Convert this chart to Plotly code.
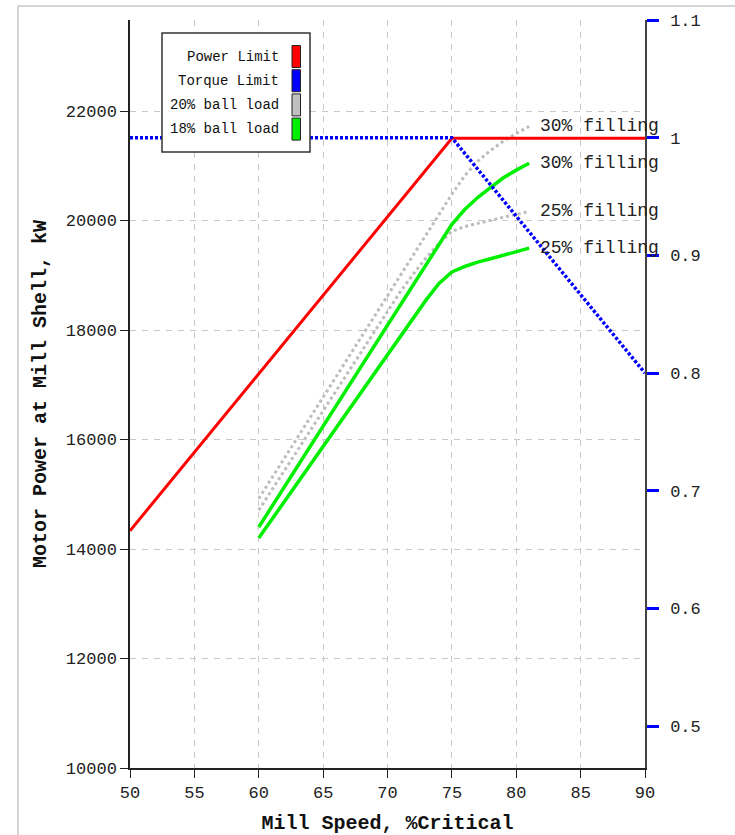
import plotly.graph_objects as go

# ---- data ----
speed_limit = [50, 75, 90]
power_limit = [14333, 21500, 21500]
torque_limit = [1.0, 1.0, 0.8]

speed = [60, 61, 62, 63, 64, 65, 66, 67, 68, 69, 70,
         71, 72, 73, 74, 75, 76, 77, 78, 79, 80, 81]
ball20_fill30 = [14920, 15290, 15665, 16035, 16410, 16780, 17150, 17525, 17900, 18270, 18640,
                 19010, 19380, 19750, 20120, 20480, 20820, 21080, 21280, 21450, 21590, 21720]
ball20_fill25 = [14710, 15075, 15440, 15800, 16170, 16530, 16900, 17260, 17630, 17990, 18350,
                 18700, 19020, 19320, 19580, 19800, 19890, 19950, 20010, 20060, 20110, 20165]
ball18_fill30 = [14400, 14770, 15140, 15510, 15880, 16250, 16620, 16990, 17360, 17730, 18100,
                 18470, 18840, 19210, 19580, 19930, 20200, 20420, 20600, 20780, 20920, 21045]
ball18_fill25 = [14200, 14535, 14870, 15200, 15540, 15870, 16210, 16540, 16880, 17210, 17540,
                 17880, 18210, 18550, 18850, 19060, 19160, 19240, 19300, 19370, 19430, 19495]

curve_labels = ["30% filling", "25% filling", "30% filling", "25% filling"]
legend_names = ["Power Limit", "Torque Limit", "20% ball load", "18% ball load"]
legend_colors = ["#ff0000", "#0000ff", "#c0c0c0", "#00ee00"]

x_ticks = [50, 55, 60, 65, 70, 75, 80, 85, 90]
y_ticks = [10000, 12000, 14000, 16000, 18000, 20000, 22000]
y2_ticks = [0.5, 0.6, 0.7, 0.8, 0.9, 1.0, 1.1]
y2_labels = ["0.5", "0.6", "0.7", "0.8", "0.9", "1", "1.1"]

MONO = "Liberation Mono"
GRID = "#c8c8c8"

fig = go.Figure()

# gray 20% ball load curves (dotted)
for ys in (ball20_fill30, ball20_fill25):
    fig.add_trace(go.Scatter(x=speed, y=ys, mode="lines",
                             line=dict(color="#bdbdbd", width=3, dash="dot"),
                             showlegend=False, hoverinfo="skip"))
# green 18% ball load curves
for ys in (ball18_fill30, ball18_fill25):
    fig.add_trace(go.Scatter(x=speed, y=ys, mode="lines",
                             line=dict(color="#00ee00", width=3.5),
                             showlegend=False, hoverinfo="skip"))
# power limit
fig.add_trace(go.Scatter(x=speed_limit, y=power_limit, mode="lines",
                         line=dict(color="#ff0000", width=3),
                         showlegend=False, hoverinfo="skip"))
# torque limit on right axis
fig.add_trace(go.Scatter(x=speed_limit, y=torque_limit, mode="lines", yaxis="y2",
                         line=dict(color="#0000ff", width=3.5, dash="3px,2px"),
                         showlegend=False, hoverinfo="skip"))

# curve end labels
for ys, lab in zip((ball20_fill30, ball20_fill25, ball18_fill30, ball18_fill25), curve_labels):
    fig.add_annotation(x=speed[-1], y=ys[-1], text=lab, showarrow=False,
                       xanchor="left", yanchor="middle", xshift=9,
                       font=dict(family=MONO, size=18, color="#222"))

# custom legend (text right, colour swatch at right)
L_x0, L_x1 = 162, 310
L_y0, L_y1 = 33, 152
pw0, pw1 = 130, 645
ph0, ph1 = 20, 768

def px_x(px):
    return (px - pw0) / (pw1 - pw0)

def px_y(py):
    return (ph1 - py) / (ph1 - ph0)

fig.add_shape(type="rect", xref="paper", yref="paper",
              x0=px_x(L_x0), x1=px_x(L_x1), y0=px_y(L_y1), y1=px_y(L_y0),
              line=dict(color="#333", width=1.5), fillcolor="white", layer="above")
for i, (name, col) in enumerate(zip(legend_names, legend_colors)):
    cy = 56.5 + i * 24.2
    fig.add_annotation(xref="paper", yref="paper", x=px_x(281), y=px_y(cy),
                       text=name, showarrow=False, xanchor="right", yanchor="middle",
                       font=dict(family=MONO, size=14, color="#111"))
    fig.add_shape(type="rect", xref="paper", yref="paper",
                  x0=px_x(292), x1=px_x(300.5), y0=px_y(cy + 11), y1=px_y(cy - 11),
                  line=dict(color="#222", width=1), fillcolor=col, layer="above")

# outer light frame
fig.add_shape(type="rect", xref="paper", yref="paper",
              x0=px_x(18), x1=px_x(760), y0=px_y(860), y1=px_y(6),
              line=dict(color="#c8c8c8", width=1.5), fillcolor="rgba(0,0,0,0)")

fig.update_layout(
    width=735, height=835,
    margin=dict(l=130, r=90, t=20, b=67),
    paper_bgcolor="white", plot_bgcolor="white",
    font=dict(family=MONO, color="#222"),
    xaxis=dict(range=[50, 90], tickvals=x_ticks, ticks="outside", ticklen=8,
               automargin=False,
               tickcolor="#222", showline=True, linecolor="#222", linewidth=1.5,
               showgrid=True, gridcolor=GRID, griddash="6px,6px", gridwidth=1.2,
               zeroline=False, tickfont=dict(family=MONO, size=17, color="#222"),
               title=dict(text="<b>Mill Speed, %Critical</b>", standoff=16,
                          font=dict(family=MONO, size=20, color="#111"))),
    yaxis=dict(range=[10000, 23662], tickvals=y_ticks, tickformat="d",
               ticks="outside", ticklen=8, automargin=False,
               tickcolor="#222", showline=True, linecolor="#222", linewidth=1.5,
               showgrid=True, gridcolor=GRID, griddash="6px,6px", gridwidth=1.2,
               zeroline=False, tickfont=dict(family=MONO, size=17, color="#222"),
               title=dict(text="<b>Motor Power at Mill Shell, kW</b>", standoff=14,
                          font=dict(family=MONO, size=20, color="#111"))),
    yaxis2=dict(range=[0.4645, 1.1], overlaying="y", side="right", anchor="x",
                tickvals=y2_ticks, ticktext=y2_labels, automargin=False,
                ticks="outside", ticklen=12, tickwidth=2.5, tickcolor="#0000ff",
                ticklabelstandoff=8,
                showline=True, linecolor="#444", linewidth=1.5, showgrid=False,
                zeroline=False, tickfont=dict(family=MONO, size=17, color="#222")),
)

fig.write_html("out.html")
